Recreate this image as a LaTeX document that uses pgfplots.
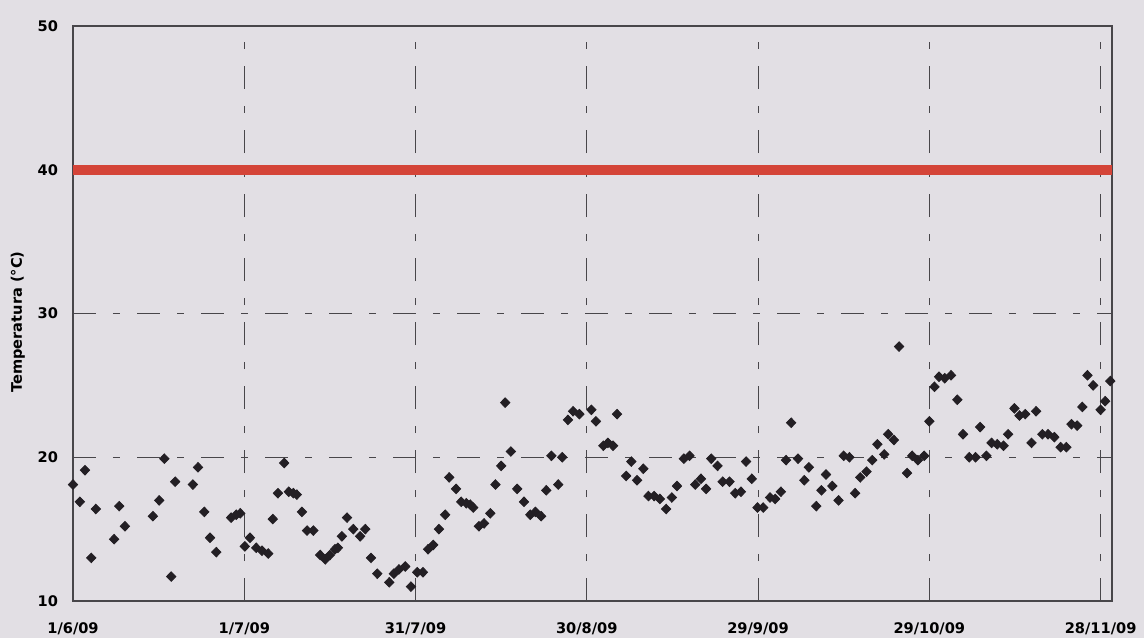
\documentclass[border=0pt]{standalone}
\usepackage{pgfplots}
\pgfplotsset{compat=1.18}
\usepackage{fontspec}
\setmainfont{DejaVu Sans}
\definecolor{bg}{RGB}{226,223,228}
\definecolor{redline}{RGB}{212,68,56}
\definecolor{ptc}{RGB}{35,31,36}
\definecolor{gridc}{RGB}{72,70,74}
\pgfplotstableread{
day temp
0.0 18.1
1.2 16.9
2.1 19.1
3.2 13.0
4.0 16.4
7.2 14.3
8.1 16.6
9.1 15.2
14.0 15.9
15.1 17.0
16.0 19.9
17.2 11.7
17.9 18.3
21.0 18.1
21.9 19.3
23.0 16.2
24.0 14.4
25.1 13.4
27.7 15.8
28.6 16.0
29.3 16.1
30.1 13.8
31.0 14.4
32.1 13.7
33.1 13.5
34.2 13.3
35.0 15.7
35.9 17.5
37.0 19.6
37.8 17.6
38.6 17.5
39.2 17.4
40.1 16.2
41.0 14.9
42.1 14.9
43.3 13.2
44.2 12.9
45.0 13.2
45.9 13.6
46.4 13.7
47.1 14.5
48.0 15.8
49.1 15.0
50.3 14.5
51.2 15.0
52.2 13.0
53.3 11.9
55.4 11.3
56.2 11.9
57.1 12.2
58.2 12.4
59.2 11.0
60.3 12.0
61.3 12.0
62.2 13.6
63.1 13.9
64.1 15.0
65.2 16.0
65.9 18.6
67.1 17.8
68.0 16.9
68.9 16.8
69.6 16.7
70.1 16.5
71.1 15.2
72.0 15.4
73.1 16.1
74.0 18.1
75.0 19.4
75.7 23.8
76.7 20.4
77.8 17.8
79.0 16.9
80.1 16.0
81.0 16.2
82.0 15.9
82.9 17.7
83.8 20.1
85.0 18.1
85.7 20.0
86.7 22.6
87.6 23.2
88.7 23.0
90.8 23.3
91.6 22.5
92.9 20.8
93.7 21.0
94.6 20.8
95.3 23.0
96.9 18.7
97.8 19.7
98.8 18.4
99.9 19.2
100.8 17.3
101.8 17.3
102.8 17.1
103.9 16.4
104.9 17.2
105.8 18.0
107.0 19.9
108.0 20.1
109.0 18.1
110.0 18.5
110.9 17.8
111.8 19.9
112.9 19.4
113.8 18.3
115.0 18.3
116.0 17.5
117.0 17.6
117.9 19.7
118.9 18.5
119.9 16.5
120.9 16.5
122.1 17.2
123.0 17.1
124.0 17.6
124.9 19.8
125.8 22.4
127.0 19.9
128.1 18.4
128.9 19.3
130.2 16.6
131.1 17.7
131.9 18.8
133.0 18.0
134.1 17.0
135.0 20.1
136.0 20.0
137.0 17.5
137.9 18.6
139.0 19.0
140.0 19.8
140.9 20.9
142.1 20.2
142.8 21.6
143.8 21.2
144.7 27.7
146.1 18.9
147.0 20.1
148.0 19.8
149.1 20.1
150.0 22.5
150.9 24.9
151.7 25.6
152.7 25.5
153.8 25.7
154.9 24.0
155.9 21.6
157.0 20.0
158.1 20.0
158.9 22.1
160.0 20.1
160.9 21.0
161.9 20.9
163.0 20.8
163.8 21.6
164.9 23.4
165.8 22.9
166.8 23.0
167.9 21.0
168.7 23.2
169.8 21.6
170.8 21.6
171.9 21.4
173.0 20.7
174.0 20.7
174.9 22.3
175.9 22.2
176.8 23.5
177.7 25.7
178.7 25.0
180.0 23.3
180.8 23.9
181.7 25.3
}\temps
\begin{document}
\begin{tikzpicture}
\fill[bg] (-36.5pt,-18.5pt) rectangle (535.5pt,300.5pt);
\begin{axis}[
  at={(0,0)}, anchor=south west,
  scale only axis, width=519.5pt, height=287.5pt,
  xmin=0, xmax=182, ymin=10, ymax=50,
  xtick={0,30,60,90,120,150,180},
  xticklabels={1/6/09,1/7/09,31/7/09,30/8/09,29/9/09,29/10/09,28/11/09},
  ytick={10,20,30,40,50},
  major tick length=0pt,
  grid=major,
  major grid style={gridc, line width=0.5pt, dash pattern=on 11.5pt off 8.5pt on 3.5pt off 8.5pt},
  axis line style={gridc, line width=0.6pt},
  tick label style={font=\fontsize{7.3}{8}\selectfont\bfseries},
  /pgf/number format/assume math mode=true,
  xticklabel style={yshift=-7.5pt},
  yticklabel style={xshift=-4pt},
  ylabel={Temperatura (°C)},
  every axis y label/.style={at={(axis description cs:-0.053,0.485)}, rotate=90, anchor=center, font=\fontsize{7.3}{8}\selectfont\bfseries},
  clip=false,
]
\addplot[redline, line width=5pt, forget plot] coordinates {(0,40) (182,40)};
\addplot[only marks, mark=diamond*, mark size=2.4pt, color=ptc, mark options={xscale=1.3}] table[x=day, y=temp] {\temps};
\end{axis}
\pgfresetboundingbox
\path[use as bounding box] (-36.5pt,-18.5pt) rectangle (535.5pt,300.5pt);
\end{tikzpicture}
\end{document}
